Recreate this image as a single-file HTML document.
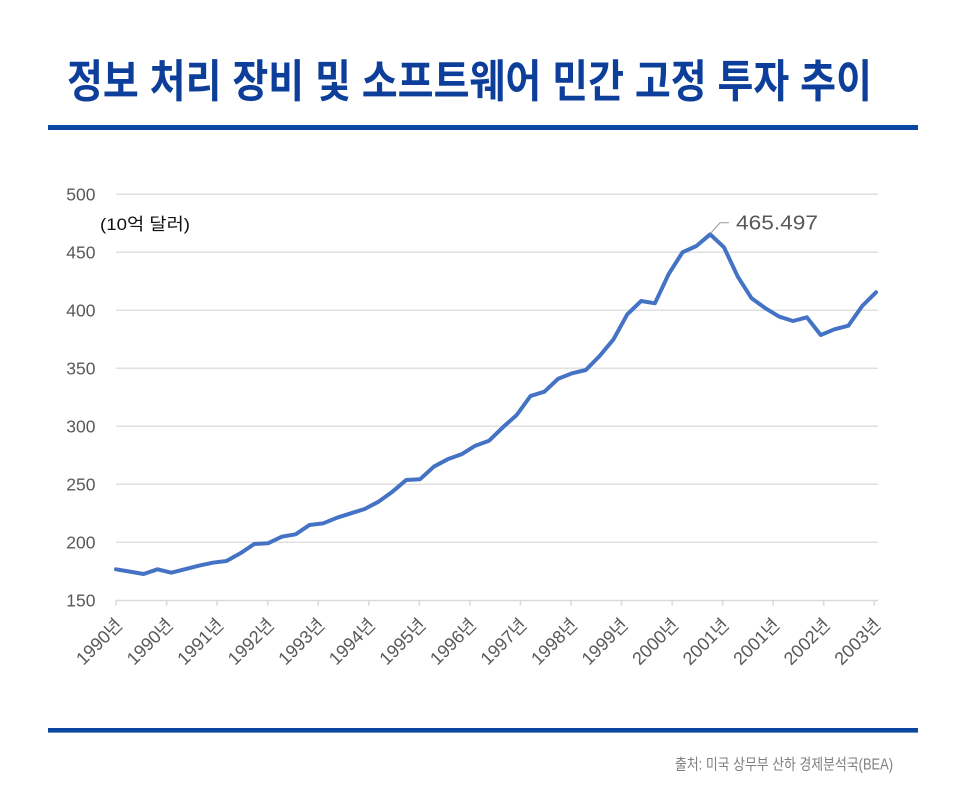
<!DOCTYPE html>
<html>
<head>
<meta charset="utf-8">
<style>
  html,body{margin:0;padding:0;background:#fff;}
  svg{display:block;}
  text{font-family:"Liberation Sans","Noto Sans CJK KR",sans-serif;}
  .title{font-family:"Liberation Sans","Noto Sans CJK KR",sans-serif;font-weight:bold;}
</style>
</head>
<body>
<svg width="966" height="801" viewBox="0 0 966 801" xmlns="http://www.w3.org/2000/svg">
  <rect x="0" y="0" width="966" height="801" fill="#ffffff"/>

  <!-- Title -->
  <text class="title" x="67" y="97" font-size="45" fill="#0d3f9a" textLength="805" lengthAdjust="spacingAndGlyphs">정보 처리 장비 및 소프트웨어 민간 고정 투자 추이</text>

  <!-- Rules -->
  <rect x="48" y="125" width="870" height="5" fill="#0b46a0"/>
  <rect x="48" y="728" width="870" height="4.6" fill="#0b46a0"/>

  <!-- Gridlines -->
  <g stroke="#e0e0e0" stroke-width="1.5">
    <line x1="116" y1="194.3" x2="878" y2="194.3"/>
    <line x1="116" y1="252.3" x2="878" y2="252.3"/>
    <line x1="116" y1="310.3" x2="878" y2="310.3"/>
    <line x1="116" y1="368.3" x2="878" y2="368.3"/>
    <line x1="116" y1="426.3" x2="878" y2="426.3"/>
    <line x1="116" y1="484.3" x2="878" y2="484.3"/>
    <line x1="116" y1="542.3" x2="878" y2="542.3"/>
  </g>
  <!-- X axis -->
  <g stroke="#d9d9d9" stroke-width="1.5">
    <line x1="116" y1="600.5" x2="878" y2="600.5"/>
    <line x1="116.0" y1="600.5" x2="116.0" y2="605.5"/>
    <line x1="166.6" y1="600.5" x2="166.6" y2="605.5"/>
    <line x1="217.1" y1="600.5" x2="217.1" y2="605.5"/>
    <line x1="267.7" y1="600.5" x2="267.7" y2="605.5"/>
    <line x1="318.2" y1="600.5" x2="318.2" y2="605.5"/>
    <line x1="368.8" y1="600.5" x2="368.8" y2="605.5"/>
    <line x1="419.3" y1="600.5" x2="419.3" y2="605.5"/>
    <line x1="469.9" y1="600.5" x2="469.9" y2="605.5"/>
    <line x1="520.4" y1="600.5" x2="520.4" y2="605.5"/>
    <line x1="571.0" y1="600.5" x2="571.0" y2="605.5"/>
    <line x1="621.5" y1="600.5" x2="621.5" y2="605.5"/>
    <line x1="672.1" y1="600.5" x2="672.1" y2="605.5"/>
    <line x1="722.6" y1="600.5" x2="722.6" y2="605.5"/>
    <line x1="773.2" y1="600.5" x2="773.2" y2="605.5"/>
    <line x1="823.7" y1="600.5" x2="823.7" y2="605.5"/>
    <line x1="874.3" y1="600.5" x2="874.3" y2="605.5"/>
  </g>

  <!-- Y labels -->
  <g font-size="17.5" fill="#595959" text-anchor="end">
    <text x="95.5" y="200.6">500</text>
    <text x="95.5" y="258.6">450</text>
    <text x="95.5" y="316.6">400</text>
    <text x="95.5" y="374.6">350</text>
    <text x="95.5" y="432.6">300</text>
    <text x="95.5" y="490.6">250</text>
    <text x="95.5" y="548.6">200</text>
    <text x="95.5" y="606.6">150</text>
  </g>

  <!-- Unit label -->
  <text x="100" y="230" font-size="17" fill="#111" textLength="90" lengthAdjust="spacingAndGlyphs">(10억 달러)</text>

  <!-- X labels -->
  <g font-size="18" fill="#595959" text-anchor="end">
    <text transform="translate(123.5,626) rotate(-45)">1990년</text>
    <text transform="translate(174.1,626) rotate(-45)">1990년</text>
    <text transform="translate(224.6,626) rotate(-45)">1991년</text>
    <text transform="translate(275.2,626) rotate(-45)">1992년</text>
    <text transform="translate(325.7,626) rotate(-45)">1993년</text>
    <text transform="translate(376.3,626) rotate(-45)">1994년</text>
    <text transform="translate(426.8,626) rotate(-45)">1995년</text>
    <text transform="translate(477.4,626) rotate(-45)">1996년</text>
    <text transform="translate(527.9,626) rotate(-45)">1997년</text>
    <text transform="translate(578.5,626) rotate(-45)">1998년</text>
    <text transform="translate(629.0,626) rotate(-45)">1999년</text>
    <text transform="translate(679.6,626) rotate(-45)">2000년</text>
    <text transform="translate(730.1,626) rotate(-45)">2001년</text>
    <text transform="translate(780.7,626) rotate(-45)">2001년</text>
    <text transform="translate(831.2,626) rotate(-45)">2002년</text>
    <text transform="translate(881.8,626) rotate(-45)">2003년</text>
  </g>

  <!-- Data line -->
  <polyline fill="none" stroke="#4472c4" stroke-width="4" stroke-linejoin="round" stroke-linecap="round"
    points="116.0,569.3 129.8,571.6 143.6,574.0 157.5,569.3 171.3,572.7 185.1,569.2 198.9,565.7 212.7,562.7 226.5,561.0 240.4,553.3 254.2,544.0 268.0,543.3 281.8,536.7 295.6,534.3 309.5,525.0 323.3,523.3 337.1,517.7 350.9,513.3 364.7,509.0 378.5,501.7 392.4,491.7 406.2,480.0 420.0,479.3 433.8,466.7 447.6,459.3 461.5,454.3 475.3,445.7 489.1,440.7 502.9,427.3 516.7,415.0 530.5,396.0 544.4,391.7 558.2,378.7 572.0,373.3 585.8,370.0 599.6,356.0 613.5,339.3 627.3,314.3 641.1,301.0 654.9,303.3 668.7,274.0 682.5,252.3 696.4,246.0 710.2,234.3 724.0,247.3 737.8,276.7 751.6,298.3 765.5,308.3 779.3,316.7 793.1,321.0 806.9,317.3 820.7,335.0 834.5,329.3 848.4,325.7 862.2,306.0 876.0,292.3"/>

  <!-- Annotation -->
  <polyline fill="none" stroke="#a6a6a6" stroke-width="1.2" points="710.5,233.5 720,222.7 729,222.7"/>
  <text x="736" y="229.5" font-size="20" fill="#595959" textLength="82" lengthAdjust="spacingAndGlyphs">465.497</text>

  <!-- Source -->
  <text x="675" y="769.5" font-size="15.5" fill="#7f7f7f" textLength="218" lengthAdjust="spacingAndGlyphs">출처: 미국 상무부 산하 경제분석국(BEA)</text>
</svg>
</body>
</html>
